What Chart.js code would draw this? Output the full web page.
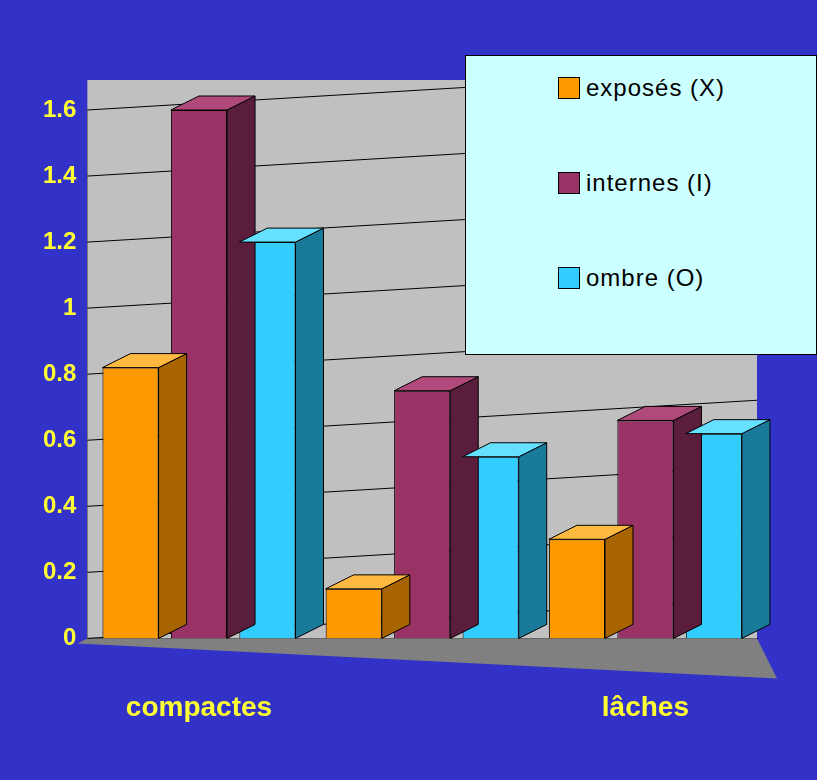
<!DOCTYPE html>
<html>
<head>
<meta charset="utf-8">
<script src="https://cdn.jsdelivr.net/npm/chart.js@4"></script>
<style>
  html, body { margin: 0; padding: 0; background: #3232c8; }
  #wrap { position: relative; width: 817px; height: 780px; }
  #legend {
    position: absolute; left: 465px; top: 55px; width: 352px; height: 300px;
    background: #ccffff; border: 1px solid #000; box-sizing: border-box;
    font-family: "Liberation Sans", Arial, sans-serif; font-size: 24px; letter-spacing: 1px;
  }
  .item { position: absolute; left: 92px; display: flex; align-items: center; }
  .sw { width: 20px; height: 20px; border: 1px solid #000; margin-right: 6px; }
</style>
</head>
<body>
<div id="wrap">
  <canvas id="chart" width="817" height="780"></canvas>
  <div id="legend"></div>
</div>
<script>
const categories = ['compactes', '', 'lâches'];
const seriesNames = ['exposés (X)', 'internes (I)', 'ombre (O)'];
const exposes = [0.82, 0.15, 0.30];
const internes = [1.60, 0.75, 0.66];
const ombre = [1.20, 0.55, 0.62];
const yTicks = [0, 0.2, 0.4, 0.6, 0.8, 1, 1.2, 1.4, 1.6];

const fills = ['#ff9900', '#993366', '#33ccff'];
const sides = ['#a86400', '#5a1e3c', '#1a7a99'];
const tops = ['#ffb840', '#b04a7a', '#66e0ff'];

const depthX = 28, depthY = -14;

const legend = document.getElementById('legend');
seriesNames.forEach((n, i) => {
    const d = document.createElement('div');
    d.className = 'item';
    d.style.top = (18 + i * 95) + 'px';
    d.innerHTML = `<span class="sw" style="background:${fills[i]}"></span>${n}`;
    legend.appendChild(d);
});

const walls = {
    id: 'walls',
    beforeDatasetsDraw(chart) {
        const ctx = chart.ctx, a = chart.chartArea, y = chart.scales.y;
        ctx.save();
        ctx.fillStyle = '#c0c0c0';
        ctx.fillRect(a.left, a.top - 30, a.right - a.left, a.bottom - a.top + 30);
        ctx.fillStyle = '#808080';
        ctx.beginPath();
        ctx.moveTo(a.left, a.bottom);
        ctx.lineTo(a.right, a.bottom);
        ctx.lineTo(a.right + 20, a.bottom + 40);
        ctx.lineTo(a.left - 10, a.bottom + 5);
        ctx.closePath();
        ctx.fill();
        ctx.strokeStyle = '#000';
        ctx.lineWidth = 1;
        for (const t of yTicks) {
            const py = y.getPixelForValue(t);
            ctx.beginPath();
            ctx.moveTo(a.left, py);
            ctx.lineTo(a.right, py - 40);
            ctx.stroke();
        }
        ctx.restore();
    },
    afterDatasetsDraw(chart) {
        const ctx = chart.ctx;
        ctx.save();
        ctx.strokeStyle = '#000';
        ctx.lineWidth = 1;
        chart.data.datasets.forEach((ds, di) => {
            chart.getDatasetMeta(di).data.forEach(bar => {
                const l = bar.x - bar.width / 2, r = bar.x + bar.width / 2;
                const t = bar.y, b = bar.base;
                ctx.fillStyle = sides[di];
                ctx.beginPath();
                ctx.moveTo(r, t); ctx.lineTo(r + depthX, t + depthY);
                ctx.lineTo(r + depthX, b + depthY); ctx.lineTo(r, b);
                ctx.closePath(); ctx.fill(); ctx.stroke();
                ctx.fillStyle = tops[di];
                ctx.beginPath();
                ctx.moveTo(l, t); ctx.lineTo(l + depthX, t + depthY);
                ctx.lineTo(r + depthX, t + depthY); ctx.lineTo(r, t);
                ctx.closePath(); ctx.fill(); ctx.stroke();
            });
        });
        ctx.restore();
    }
};

new Chart(document.getElementById('chart'), {
    type: 'bar',
    data: {
        labels: categories,
        datasets: [exposes, internes, ombre].map((d, i) => ({
            label: seriesNames[i],
            data: d,
            backgroundColor: fills[i],
            borderColor: '#000',
            borderWidth: 1,
        })),
    },
    options: {
        responsive: false,
        animation: false,
        layout: { padding: { left: 40, right: 60, top: 110, bottom: 10 } },
        datasets: { bar: { categoryPercentage: 0.92, barPercentage: 0.82 } },
        scales: {
            y: {
                min: 0, max: 1.6,
                afterBuildTicks: s => { s.ticks = yTicks.map(v => ({ value: v })); },
                grid: { display: false },
                border: { color: '#000' },
                ticks: {
                    color: '#ffff33',
                    font: { family: 'Liberation Sans', size: 24, weight: 'bold' },
                    callback: v => String(v),
                },
            },
            x: {
                grid: { display: false },
                border: { color: '#000' },
                ticks: {
                    color: '#ffff33',
                    padding: 45,
                    font: { family: 'Liberation Sans', size: 28, weight: 'bold' },
                },
            },
        },
        plugins: { legend: { display: false }, tooltip: { enabled: false } },
    },
    plugins: [walls],
});
</script>
</body>
</html>
